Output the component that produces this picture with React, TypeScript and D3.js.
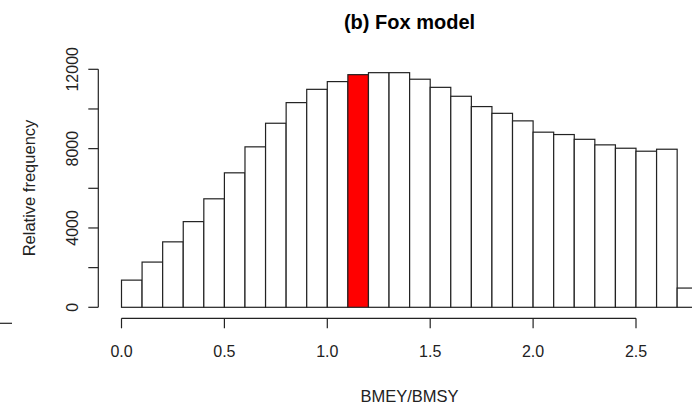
import React from "react";
import * as d3 from "d3";

// Histogram bin edges and counts (BMEY/BMSY, Fox model)
const breaks = [0.0, 0.1, 0.2, 0.3, 0.4, 0.5, 0.6, 0.7, 0.8, 0.9, 1.0, 1.1, 1.2, 1.3, 1.4, 1.5, 1.6, 1.7, 1.8, 1.9, 2.0, 2.1, 2.2, 2.3, 2.4, 2.5, 2.6, 2.7, 2.8];
const counts = [1370, 2280, 3300, 4320, 5470, 6780, 8090, 9280, 10320, 10990, 11380, 11730, 11830, 11830, 11500, 11090, 10640, 10120, 9780, 9400, 8830, 8710, 8470, 8190, 8020, 7870, 7970, 970];
const highlightIndex = 11;

const xTicks = [0, 0.5, 1.0, 1.5, 2.0, 2.5];
const xTickLabels = ["0.0", "0.5", "1.0", "1.5", "2.0", "2.5"];
const yTicks = [0, 2000, 4000, 6000, 8000, 10000, 12000];
const yTickLabels = [0, 4000, 8000, 12000];

const title = "(b) Fox model";
const xTitle = "BMEY/BMSY";
const yTitle = "Relative frequency";

const W = 692;
const H = 404;
const FONT = "'Liberation Sans', Arial, Helvetica, sans-serif";

export default function App() {
  const x = d3.scaleLinear().domain([0, 2.5]).range([121.5, 636]);
  const y = d3.scaleLinear().domain([0, 12000]).range([307.3, 69.3]);

  const plotLeft = 98.3;
  const plotRight = x(2.8) + 23;
  const centerX = (plotLeft + plotRight) / 2;
  const xAxisY = 318.3;

  const bins = counts.map((c, i) => ({ x0: breaks[i], x1: breaks[i + 1], c }));

  return (
    <svg
      width={W}
      height={H}
      style={{ position: "absolute", left: 0, top: 0, background: "#fff" }}
      fontFamily={FONT}
    >
      <rect width={W} height={H} fill="#fff" />

      {/* bars */}
      {bins.map((b, i) => (
        <rect
          key={i}
          x={x(b.x0)}
          y={y(b.c)}
          width={x(b.x1) - x(b.x0)}
          height={y(0) - y(b.c)}
          fill={i === highlightIndex ? "#ff0000" : "#ffffff"}
          stroke="#222"
          strokeWidth={1.2}
        />
      ))}

      {/* x axis */}
      <line x1={x(0)} x2={x(2.5)} y1={xAxisY} y2={xAxisY} stroke="#222" strokeWidth={1.2} />
      {xTicks.map((t, i) => (
        <g key={i}>
          <line x1={x(t)} x2={x(t)} y1={xAxisY} y2={xAxisY + 10} stroke="#222" strokeWidth={1.2} />
          <text x={x(t)} y={357} textAnchor="middle" fontSize={16} fill="#222">
            {xTickLabels[i]}
          </text>
        </g>
      ))}

      {/* y axis */}
      <line x1={plotLeft} x2={plotLeft} y1={y(0)} y2={y(12000)} stroke="#222" strokeWidth={1.2} />
      {yTicks.map((t, i) => (
        <line key={i} x1={plotLeft - 10} x2={plotLeft} y1={y(t)} y2={y(t)} stroke="#222" strokeWidth={1.2} />
      ))}
      {yTickLabels.map((t, i) => (
        <text
          key={i}
          transform={`translate(78,${y(t)}) rotate(-90)`}
          textAnchor="middle"
          fontSize={16}
          fill="#222"
        >
          {t}
        </text>
      ))}

      {/* stray tick from neighbouring panel */}
      <line x1={0} x2={12} y1={323.3} y2={323.3} stroke="#222" strokeWidth={1.2} />

      {/* titles */}
      <text x={centerX} y={29} textAnchor="middle" fontSize={20} fontWeight="bold" fill="#000">
        {title}
      </text>
      <text x={centerX} y={402} textAnchor="middle" fontSize={16.5} fill="#222">
        {xTitle}
      </text>
      <text
        transform={`translate(35,188) rotate(-90)`}
        textAnchor="middle"
        fontSize={16.5}
        fill="#222"
      >
        {yTitle}
      </text>
    </svg>
  );
}
